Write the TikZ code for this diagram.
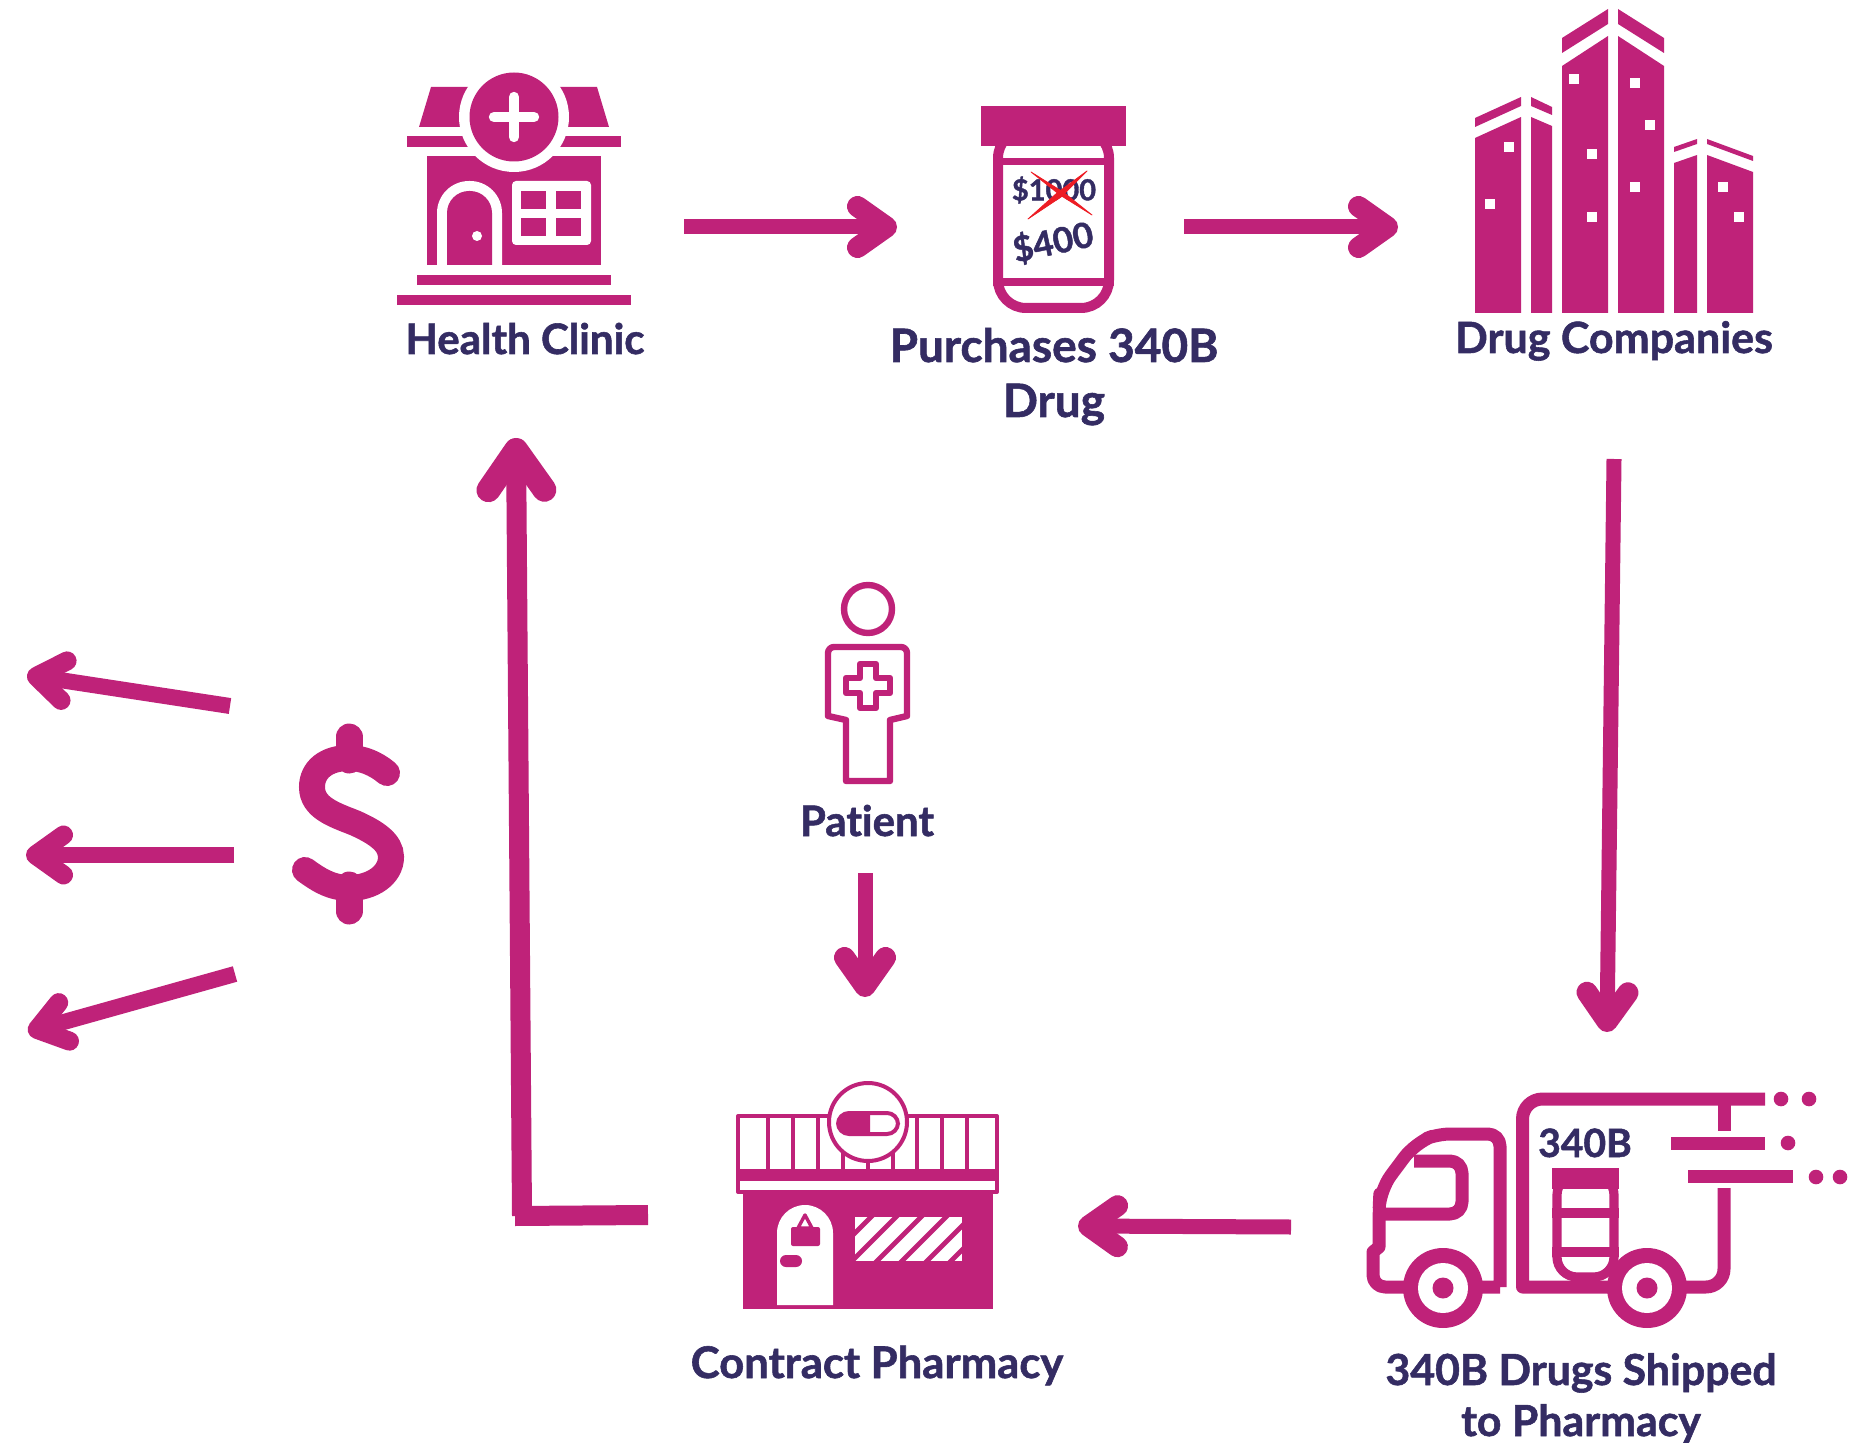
\documentclass[tikz,border=0pt]{standalone}
\usepackage{fontspec}
\setmainfont{Lato}[Ligatures=NoCommon,BoldFeatures={FakeBold=1.3}]
\usetikzlibrary{arrows.meta}
\definecolor{pinkc}{HTML}{BF2279}
\definecolor{navyc}{HTML}{342C63}
\definecolor{redc}{HTML}{ED1C24}

\begin{document}
\begin{tikzpicture}[x=0.5pt,y=-0.5pt,
    labeltext/.style={font=\bfseries\fontsize{21}{27.5}\selectfont, text=navyc, anchor=base, inner sep=0pt, align=center},
    pricetext/.style={font=\bfseries\fontsize{14.5}{18}\selectfont, text=navyc, inner sep=0pt},
    flowline/.style={draw=pinkc, line width=7.5pt, -{Straight Barb[length=14.5pt,width=20.5pt,line width=10.5pt,round]}},
    moneyline/.style={draw=pinkc, line width=8pt, -{Straight Barb[length=14pt,width=20pt,line width=9.5pt,round]}},
    returnline/.style={draw=pinkc, line width=10pt, -{Straight Barb[length=20pt,width=28pt,line width=12pt,round]}},
    thinline/.style={draw=pinkc, line width=2pt},
    outline/.style={draw=pinkc, line width=3.2pt, line join=round},
    truckline/.style={draw=pinkc, line width=6.5pt, line join=round},
    redcross/.style={fill=redc, draw=redc, line width=0.4pt, line join=round}]
    \useasboundingbox (0,0) rectangle (1868,1443);

    % clinic icon
    \fill[pinkc] (431,87) -- (597,87) -- (609,127) -- (419,127) -- cycle;
    \fill[pinkc] (407,136) rectangle (621,147);
    \fill[pinkc] (427,156) rectangle (601,265);
    \fill[white] (514,117) circle (55);
    \fill[pinkc] (514,117) circle (44.5);
    \draw[white, line width=5.2pt, line cap=round] (494,117) -- (534,117) (514,97) -- (514,137);
    \fill[white] (437,265) [rounded corners=16pt] -- (437,181) -- (502,181) [sharp corners] -- (502,265) -- cycle;
    \fill[pinkc] (447,265) [rounded corners=11pt] -- (447,191) -- (492,191) [sharp corners] -- (492,265) -- cycle;
    \fill[white] (477,236) circle (5);
    \fill[white, rounded corners=2pt] (512,181) rectangle (591,245);
    \foreach \wx in {521,556}
        \foreach \wy in {191,218}
            \fill[pinkc] (\wx,\wy) rectangle ++(25,18);
    \fill[pinkc] (417,275) rectangle (611,285);
    \fill[pinkc] (397,295) rectangle (631,305);

    % bottle icon
    \draw[pinkc, line width=5pt, rounded corners=14pt] (998,130) rectangle (1109,308);
    \fill[pinkc] (981,106) rectangle (1126,146);
    \fill[pinkc] (993,158) rectangle (1114,165);
    \fill[pinkc] (993,278) rectangle (1114,286);
    \node[pricetext] (oldprice) at (1054,190) {\$1000};
    \node[pricetext, font=\bfseries\fontsize{17.5}{20}\selectfont, rotate=12] (newprice) at (1053,242) {\$400};
    \fill[redcross] (1031,172) -- (1063,192) -- (1092,215) -- (1060,195) -- cycle;
    \fill[redcross] (1087,171) -- (1061,197) -- (1028,219) -- (1057,193) -- cycle;

    % companies icon
    \fill[pinkc] (1475,313) -- (1475,138) -- (1521,117) -- (1521,313) -- cycle;
    \fill[pinkc] (1531,313) -- (1531,117) -- (1552,126) -- (1552,313) -- cycle;
    \fill[pinkc] (1475,118) -- (1521,97) -- (1521,106) -- (1475,127) -- cycle;
    \fill[pinkc] (1531,97) -- (1552,107) -- (1552,115) -- (1531,106) -- cycle;
    \fill[pinkc] (1562,313) -- (1562,66) -- (1608,36) -- (1608,313) -- cycle;
    \fill[pinkc] (1618,313) -- (1618,36) -- (1664,66) -- (1664,313) -- cycle;
    \fill[pinkc] (1562,38) -- (1608,9) -- (1608,24) -- (1562,53) -- cycle;
    \fill[pinkc] (1618,9) -- (1664,38) -- (1664,53) -- (1618,24) -- cycle;
    \fill[pinkc] (1674,313) -- (1674,163) -- (1697,155) -- (1697,313) -- cycle;
    \fill[pinkc] (1707,313) -- (1707,155) -- (1753,172) -- (1753,313) -- cycle;
    \fill[pinkc] (1674,147) -- (1697,139) -- (1697,144) -- (1674,152) -- cycle;
    \fill[pinkc] (1707,139) -- (1753,156) -- (1753,161) -- (1707,144) -- cycle;
    \foreach \wx/\wy in {1509/147,1490/204,1574/79,1592/154,1592/217,1635/83,1650/125,1635/187,1723/187,1739/217}
        \fill[white] (\wx-5,\wy-5) rectangle (\wx+5,\wy+5);

    % patient icon
    \draw[outline] (868,609) circle (24);
    \draw[outline] (846,781) -- (846,720) -- (828,716) [rounded corners=3pt] -- (828,647) -- (907,647) [sharp corners] -- (907,716) -- (890,720) -- (890,781) -- cycle;
    \draw[outline] (860,664) -- (876,664) -- (876,678) -- (890,678) -- (890,693) -- (876,693) -- (876,708) -- (860,708) -- (860,693) -- (846,693) -- (846,678) -- (860,678) -- cycle;

    % pharmacy icon
    \fill[pinkc] (743,1190) rectangle (993,1309);
    \fill[white] (777,1305) [rounded corners=14pt] -- (777,1205) -- (833,1205) [sharp corners] -- (833,1305) -- cycle;
    \draw[pinkc, line width=1.7pt, line join=round] (805,1215) -- (798,1228) -- (812,1228) -- cycle;
    \fill[pinkc, rounded corners=1pt] (791,1227) rectangle (820,1246);
    \fill[pinkc, rounded corners=3pt] (780,1255) rectangle (802,1267);
    \begin{scope}
        \clip (855,1217) rectangle (962,1261);
        \fill[white] (855,1217) rectangle (962,1261);
        \foreach \sum in {2088,2113,2138,2163,2188,2212}
            \draw[pinkc, line width=2.4pt] (\sum-1300,1300) -- (\sum-1180,1180);
    \end{scope}
    \fill[pinkc] (738,1169) rectangle (997,1181);
    \draw[thinline, line join=round] (738,1116) rectangle (997,1192);
    \foreach \ax in {768,793,818,843,868,893,917,942,967}
        \draw[pinkc, line width=1.7pt] (\ax,1116) -- (\ax,1170);
    \draw[thinline, fill=white] (868,1122) circle (39);
    \draw[thinline, rounded corners=5.5pt] (838,1113) rectangle (898,1134);
    \begin{scope}
        \clip (830,1100) rectangle (870,1140);
        \fill[pinkc, rounded corners=5.5pt] (838,1113) rectangle (898,1134);
    \end{scope}

    % truck icon
    \draw[truckline] (1500,1287) [rounded corners=6pt] -- (1500,1134) -- (1438,1134) [rounded corners=9pt] -- (1415,1143) -- (1380,1190) -- (1379,1212) [sharp corners] -- (1379,1247) -- (1373,1252) [rounded corners=6pt] -- (1373,1287) -- (1443,1287) [sharp corners] -- (1500,1287);
    \draw[truckline, rounded corners=6pt] (1414,1161) -- (1462,1161) -- (1462,1214) -- (1385,1214);
    \draw[truckline] (1765,1099) [rounded corners=10pt] -- (1522.5,1099) [sharp corners] -- (1522.5,1287) -- (1660,1287);
    \draw[truckline, rounded corners=9pt] (1724,1188) -- (1724,1287) -- (1660,1287);
    \draw[truckline] (1724,1099) -- (1724,1131);
    \draw[truckline] (1671,1143.5) -- (1765,1143.5);
    \draw[truckline] (1688,1176.5) -- (1793,1176.5);
    \foreach \dx/\dy in {1781/1099,1809/1099,1788/1143,1816/1177,1840/1177}
        \fill[pinkc] (\dx,\dy) circle (7.3);
    \node[pricetext, font=\bfseries\fontsize{19.5}{24}\selectfont, anchor=base] (truckcode) at (1585,1157) {340B};
    \draw[pinkc, fill=white, line width=4.6pt, rounded corners=10pt] (1557,1175) rectangle (1614,1277);
    \fill[pinkc] (1552,1168) rectangle (1619,1189);
    \fill[pinkc] (1552,1208) rectangle (1619,1218);
    \fill[pinkc] (1552,1247) rectangle (1619,1257);
    \foreach \wx in {1443,1647} {
        \fill[pinkc] (\wx,1288) circle (40);
        \fill[white] (\wx,1288) circle (25);
        \fill[pinkc] (\wx,1288) circle (10.5);
    }

    % dollar icon
    \draw[pinkc, line width=13pt, line cap=round] (387,773) .. controls (375,763) and (362,758) .. (349,758) .. controls (326,758) and (312,770) .. (312,787) .. controls (312,808) and (335,815) .. (355,823) .. controls (375,832) and (391,842) .. (391,857) .. controls (391,875) and (372,888) .. (349,888) .. controls (330,888) and (316,878) .. (305,870);
    \draw[pinkc, line width=13.5pt, line cap=round] (349,737) -- (349,760);
    \draw[pinkc, line width=13.5pt, line cap=round] (349,885) -- (349,911);

    % nodes
    \node[labeltext]                                    (clinic)    at (525,354)   {Health Clinic};
    \node[labeltext, font=\bfseries\fontsize{23}{27.5}\selectfont] (purchase)  at (1054,417)  {Purchases 340B\\Drug};
    \node[labeltext, font=\bfseries\fontsize{21.5}{27}\selectfont] (companies) at (1614,353)  {Drug Companies};
    \node[labeltext]                                    (patient)   at (867,836)   {Patient};
    \node[labeltext, font=\bfseries\fontsize{21.8}{27}\selectfont] (pharmacy)  at (877,1378)  {Contract Pharmacy};
    \node[labeltext, font=\bfseries\fontsize{21.4}{25.5}\selectfont] (shipped)   at (1581,1436) {340B Drugs Shipped\\to Pharmacy};

    % line ends
    \coordinate (clinicout)    at (684,227);
    \coordinate (bottlein)     at (897,227);
    \coordinate (bottleout)    at (1184,227);
    \coordinate (companiesin)  at (1398,227);
    \coordinate (companiesout) at (1614,459);
    \coordinate (truckin)      at (1607,1032);
    \coordinate (truckout)     at (1291,1227);
    \coordinate (pharmacyin)   at (1078,1226);
    \coordinate (patientout)   at (865,873);
    \coordinate (patientin)    at (865,997);
    \coordinate (pharmacyout)  at (648,1215);
    \coordinate (cornerend)    at (515,1216);
    \coordinate (cornerstart)  at (522,1216);
    \coordinate (clinicin)     at (516,438);
    \coordinate (moneya)       at (230,706);
    \coordinate (moneyb)       at (234,855);
    \coordinate (moneyc)       at (235,974);
    \coordinate (leftlinea)    at (27,675);
    \coordinate (leftlineb)    at (26,855);
    \coordinate (leftlinec)    at (28,1032);

    % lines
    \draw[flowline] (clinicout) -- (bottlein);
    \draw[flowline] (bottleout) -- (companiesin);
    \draw[flowline] (companiesout) -- (truckin);
    \draw[flowline] (truckout) -- (pharmacyin);
    \draw[flowline] (patientout) -- (patientin);
    \draw[pinkc, line width=10pt] (pharmacyout) -- (cornerend);
    \draw[returnline] (cornerstart) -- (clinicin);
    \draw[moneyline] (moneya) -- (leftlinea);
    \draw[moneyline] (moneyb) -- (leftlineb);
    \draw[moneyline] (moneyc) -- (leftlinec);
\end{tikzpicture}
\end{document}
